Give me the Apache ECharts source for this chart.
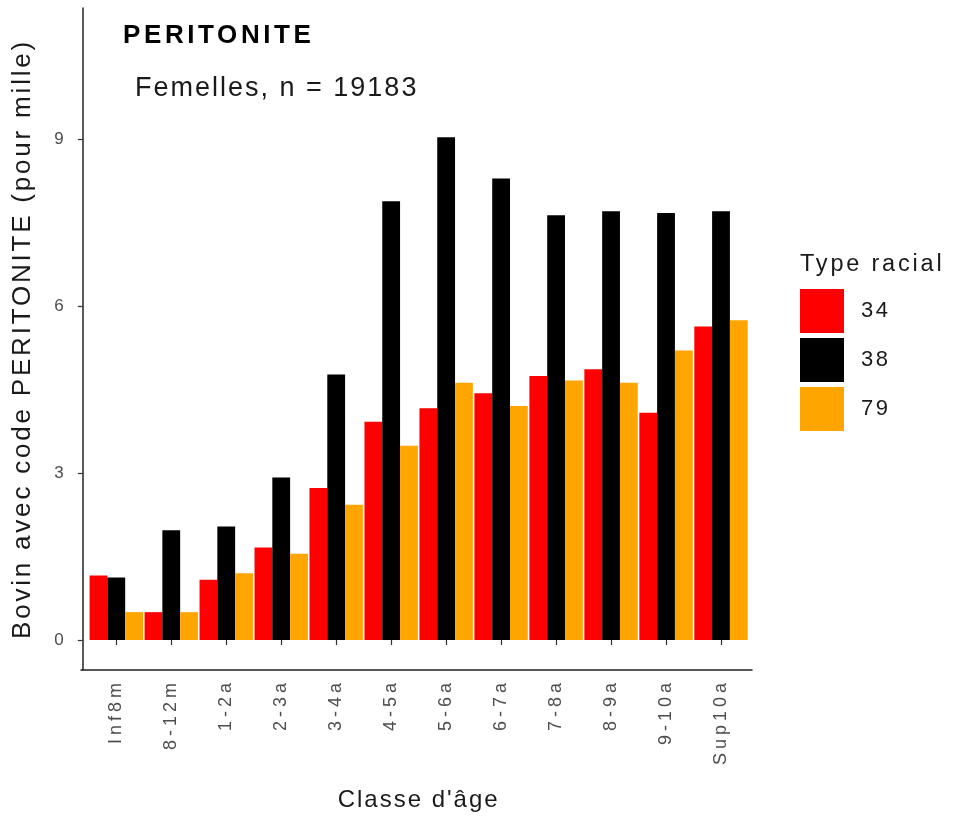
<!DOCTYPE html>
<html>
<head>
<meta charset="utf-8">
<script src="https://cdn.jsdelivr.net/npm/echarts@6/dist/echarts.min.js"></script>
<style>
html,body{margin:0;padding:0;background:#fff;}
#chart{width:955px;height:818px;}
</style>
</head>
<body>
<div id="chart"></div>
<script>
// widen text rendering a little (reference text is drawn with wide spacing)
(function(){
  var proto = window.CanvasRenderingContext2D && CanvasRenderingContext2D.prototype;
  if (!proto || !('letterSpacing' in proto)) return;
  var d = Object.getOwnPropertyDescriptor(proto, 'font');
  if (!d) return;
  var plain = {'18':4, '22':2.5, '23.5':2.8, '24':2, '26':2.8, '27':2};
  var bold = {'26':3.6};
  Object.defineProperty(proto, 'font', {
    configurable: true, enumerable: true,
    get: function(){ return d.get.call(this); },
    set: function(v){
      d.set.call(this, v);
      var m = /([\d.]+)px/.exec(v);
      var sp = 0;
      if (m) {
        var tbl = /bold|700/.test(v) ? bold : plain;
        sp = tbl[String(parseFloat(m[1]))] || 0;
      }
      try { this.letterSpacing = sp + 'px'; } catch(e) {}
    }
  });
})();

var categories = ['Inf8m','8-12m','1-2a','2-3a','3-4a','4-5a','5-6a','6-7a','7-8a','8-9a','9-10a','Sup10a'];
var seriesNames = ['34','38','79'];
var values34 = [1.16, 0.50, 1.08, 1.66, 2.73, 3.92, 4.16, 4.43, 4.74, 4.86, 4.08, 5.63];
var values38 = [1.12, 1.97, 2.04, 2.92, 4.77, 7.88, 9.03, 8.29, 7.63, 7.70, 7.67, 7.70];
var values79 = [0.50, 0.50, 1.20, 1.55, 2.43, 3.49, 4.62, 4.20, 4.66, 4.62, 5.20, 5.74];
var yTicks = [0, 3, 6, 9];
var titleText = 'PERITONITE';
var subtitleText = 'Femelles, n = 19183';
var legendTitle = 'Type racial';
var xName = "Classe d'âge";
var yName = 'Bovin avec code PERITONITE (pour mille)';
var colors = ['#FF0000', '#000000', '#FFA500'];

var FONT = 'Liberation Sans';
var chart = echarts.init(document.getElementById('chart'), null, {renderer: 'canvas'});

var allValues = [values34, values38, values79];
var series = seriesNames.map(function(n, i){
  return {
    name: n,
    type: 'bar',
    xAxisIndex: 0,
    yAxisIndex: 0,
    data: allValues[i],
    barWidth: 17.8,
    barGap: '0%',
    itemStyle: {color: colors[i]},
    emphasis: {disabled: true}
  };
});

chart.setOption({
  animation: false,
  textStyle: {fontFamily: FONT},
  color: colors,
  title: [
    {text: titleText, left: 123, top: 21.5, padding: 0,
     textStyle: {fontFamily: FONT, fontSize: 26, fontWeight: 'bold', color: '#000'}},
    {text: subtitleText, left: 135, top: 74.5, padding: 0,
     textStyle: {fontFamily: FONT, fontSize: 27, fontWeight: 'normal', color: '#1a1a1a'}},
    {text: legendTitle, left: 800, top: 251.5, padding: 0,
     textStyle: {fontFamily: FONT, fontSize: 23.5, fontWeight: 'normal', color: '#1a1a1a'}}
  ],
  legend: {
    orient: 'vertical',
    left: 800,
    top: 289,
    padding: 0,
    itemWidth: 44,
    itemHeight: 44,
    itemGap: 5,
    icon: 'rect',
    selectedMode: false,
    data: seriesNames,
    textStyle: {fontFamily: FONT, fontSize: 22, color: '#1a1a1a', padding: [10, 0, 0, 12]}
  },
  grid: [
    {left: 87, right: 206.5, top: 8, bottom: 148, containLabel: false},
    {left: 81, right: 203, top: 8, bottom: 148, containLabel: false}
  ],
  xAxis: [
    {
      type: 'category',
      gridIndex: 0,
      data: categories,
      name: xName,
      nameLocation: 'middle',
      nameGap: 117,
      nameTextStyle: {fontFamily: FONT, fontSize: 24, color: '#1a1a1a'},
      axisLine: {show: false},
      axisTick: {show: true, alignWithLabel: true, length: 5, lineStyle: {color: '#333', width: 1.2}},
      axisLabel: {rotate: 90, margin: 9, fontFamily: FONT, fontSize: 18, color: '#4d4d4d', interval: 0},
      splitLine: {show: false}
    },
    {
      type: 'value',
      gridIndex: 1,
      min: 0,
      max: 1,
      axisLine: {show: true, onZero: false, lineStyle: {color: '#222', width: 1.5}},
      axisTick: {show: false},
      axisLabel: {show: false},
      splitLine: {show: false}
    }
  ],
  yAxis: [
    {
      type: 'value',
      gridIndex: 0,
      min: -0.539,
      max: 11.35,
      offset: 6,
      name: yName,
      nameLocation: 'middle',
      nameGap: 46,
      nameRotate: 90,
      nameTextStyle: {fontFamily: FONT, fontSize: 26, color: '#1a1a1a'},
      axisLine: {show: true, lineStyle: {color: '#222', width: 1.5}},
      axisTick: {show: true, length: 5, customValues: yTicks, lineStyle: {color: '#333', width: 1.2}},
      axisLabel: {customValues: yTicks, margin: 19, fontFamily: FONT, fontSize: 17, color: '#4d4d4d'},
      splitLine: {show: false}
    },
    {
      type: 'value',
      gridIndex: 1,
      show: false,
      min: 0,
      max: 1
    }
  ],
  series: series
});
</script>
</body>
</html>
